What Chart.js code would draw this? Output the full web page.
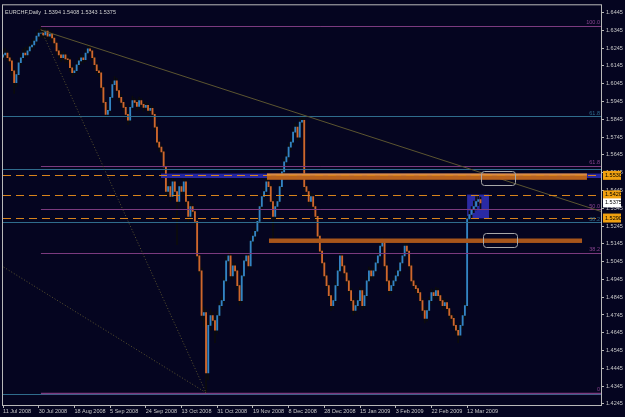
<!DOCTYPE html>
<html>
<head>
<meta charset="utf-8">
<script src="https://cdn.jsdelivr.net/npm/chart.js@4.4.1/dist/chart.umd.min.js"></script>
<style>
  html, body { margin: 0; padding: 0; background: #050520; }
  #wrap { width: 625px; height: 417px; }
</style>
</head>
<body>
<div id="wrap"><canvas id="chart" width="625" height="417"></canvas></div>
<script>
'use strict';

// EURCHF daily, one entry per bar (bar 0 = 11 Jul 2008)
const opens = [
  1.6195, 1.6207, 1.6218, 1.6191, 1.6174, 1.6118, 1.6051, 1.6096, 1.6163, 1.6191,
  1.6218, 1.6207, 1.6230, 1.6252, 1.6263, 1.6285, 1.6313, 1.6330, 1.6330, 1.6319,
  1.6341, 1.6313, 1.6324, 1.6302, 1.6274, 1.6230, 1.6207, 1.6191, 1.6207, 1.6185,
  1.6180, 1.6135, 1.6107, 1.6118, 1.6152, 1.6174, 1.6191, 1.6180, 1.6218, 1.6241,
  1.6230, 1.6191, 1.6152, 1.6118, 1.6107, 1.6024, 1.5940, 1.5873, 1.5895, 1.5968,
  1.6040, 1.6062, 1.6007, 1.5968, 1.5940, 1.5912, 1.5873, 1.5840, 1.5912, 1.5951,
  1.5940, 1.5918, 1.5951, 1.5929, 1.5912, 1.5923, 1.5895, 1.5907, 1.5873, 1.5801,
  1.5717, 1.5689, 1.5662, 1.5578, 1.5439, 1.5467, 1.5411, 1.5494, 1.5439, 1.5383,
  1.5467, 1.5439, 1.5494, 1.5383, 1.5299, 1.5355, 1.5327, 1.5271, 1.5077, 1.4993,
  1.4742, 1.4759, 1.4420, 1.4687, 1.4742, 1.4714, 1.4659, 1.4742, 1.4798, 1.4826,
  1.4937, 1.5049, 1.5077, 1.4965, 1.5021, 1.4993, 1.4910, 1.4826, 1.4965, 1.5049,
  1.5077, 1.5021, 1.5160, 1.5188, 1.5216, 1.5271, 1.5355, 1.5411, 1.5439, 1.5494,
  1.5467, 1.5383, 1.5299, 1.5355, 1.5383, 1.5467, 1.5550, 1.5606, 1.5634, 1.5689,
  1.5717, 1.5773, 1.5801, 1.5745, 1.5829, 1.5840, 1.5467, 1.5439, 1.5383, 1.5411,
  1.5355, 1.5299, 1.5188, 1.5104, 1.5038, 1.4965, 1.4910, 1.4854, 1.4798, 1.4826,
  1.4910, 1.4993, 1.5077, 1.5021, 1.4982, 1.4937, 1.4882, 1.4826, 1.4770, 1.4798,
  1.4826, 1.4882, 1.4798, 1.4854, 1.4937, 1.4993, 1.4965, 1.4993, 1.5038, 1.5077,
  1.5132, 1.5160, 1.5021, 1.4937, 1.4882, 1.4910, 1.4937, 1.4965, 1.4993, 1.5038,
  1.5077, 1.5132, 1.5104, 1.5021, 1.4937, 1.4910, 1.4893, 1.4871, 1.4826, 1.4770,
  1.4726, 1.4770, 1.4826, 1.4871, 1.4854, 1.4882, 1.4854, 1.4826, 1.4798, 1.4815,
  1.4781, 1.4742, 1.4726, 1.4687, 1.4659, 1.4631, 1.4687, 1.4742, 1.4798, 1.5285,
  1.5310, 1.5338, 1.5355, 1.5383, 1.5394
];
const highs = [
  1.6240, 1.6245, 1.6232, 1.6210, 1.6185, 1.6130, 1.6120, 1.6180, 1.6215, 1.6240,
  1.6250, 1.6255, 1.6270, 1.6290, 1.6300, 1.6335, 1.6350, 1.6369, 1.6355, 1.6360,
  1.6352, 1.6345, 1.6338, 1.6315, 1.6285, 1.6245, 1.6225, 1.6230, 1.6220, 1.6205,
  1.6190, 1.6150, 1.6135, 1.6170, 1.6190, 1.6210, 1.6205, 1.6235, 1.6265, 1.6255,
  1.6240, 1.6200, 1.6165, 1.6135, 1.6115, 1.6035, 1.5955, 1.5915, 1.5985, 1.6060,
  1.6085, 1.6075, 1.6020, 1.5985, 1.5955, 1.5925, 1.5890, 1.5930, 1.5975, 1.5965,
  1.5955, 1.5970, 1.5962, 1.5945, 1.5940, 1.5935, 1.5925, 1.5920, 1.5885, 1.5815,
  1.5735, 1.5700, 1.5675, 1.5590, 1.5495, 1.5480, 1.5515, 1.5505, 1.5455, 1.5490,
  1.5480, 1.5515, 1.5505, 1.5395, 1.5375, 1.5370, 1.5340, 1.5285, 1.5095, 1.5010,
  1.4790, 1.4775, 1.4710, 1.4775, 1.4760, 1.4730, 1.4765, 1.4820, 1.4845, 1.4960,
  1.5075, 1.5100, 1.5090, 1.5040, 1.5035, 1.5005, 1.4925, 1.4985, 1.5070, 1.5095,
  1.5090, 1.5180, 1.5210, 1.5235, 1.5290, 1.5375, 1.5430, 1.5460, 1.5520, 1.5530,
  1.5480, 1.5395, 1.5375, 1.5400, 1.5485, 1.5570, 1.5625, 1.5655, 1.5710, 1.5740,
  1.5795, 1.5825, 1.5815, 1.5850, 1.5868, 1.5855, 1.5480, 1.5450, 1.5430, 1.5425,
  1.5370, 1.5315, 1.5200, 1.5120, 1.5050, 1.4980, 1.4925, 1.4870, 1.4845, 1.4930,
  1.5015, 1.5100, 1.5090, 1.5035, 1.4995, 1.4950, 1.4895, 1.4840, 1.4820, 1.4845,
  1.4900, 1.4895, 1.4875, 1.4960, 1.5015, 1.5005, 1.5010, 1.5055, 1.5095, 1.5150,
  1.5180, 1.5170, 1.5035, 1.4950, 1.4930, 1.4955, 1.4985, 1.5010, 1.5055, 1.5095,
  1.5150, 1.5145, 1.5115, 1.5035, 1.4950, 1.4925, 1.4905, 1.4885, 1.4840, 1.4785,
  1.4790, 1.4845, 1.4890, 1.4885, 1.4900, 1.4895, 1.4865, 1.4840, 1.4835, 1.4825,
  1.4795, 1.4755, 1.4740, 1.4700, 1.4675, 1.4705, 1.4760, 1.4815, 1.5300, 1.5330,
  1.5355, 1.5385, 1.5410, 1.5420, 1.5408
];
const lows = [
  1.6180, 1.6190, 1.6170, 1.6150, 1.6090, 1.5990, 1.6030, 1.6080, 1.6150, 1.6175,
  1.6190, 1.6195, 1.6215, 1.6235, 1.6245, 1.6270, 1.6295, 1.6305, 1.6300, 1.6305,
  1.6290, 1.6295, 1.6280, 1.6255, 1.6205, 1.6185, 1.6170, 1.6180, 1.6165, 1.6160,
  1.6115, 1.6085, 1.6095, 1.6105, 1.6140, 1.6160, 1.6160, 1.6170, 1.6205, 1.6215,
  1.6175, 1.6130, 1.6100, 1.6085, 1.6000, 1.5915, 1.5850, 1.5860, 1.5880, 1.5955,
  1.6025, 1.5985, 1.5950, 1.5920, 1.5890, 1.5850, 1.5815, 1.5830, 1.5900, 1.5920,
  1.5895, 1.5905, 1.5910, 1.5890, 1.5900, 1.5875, 1.5880, 1.5850, 1.5780, 1.5695,
  1.5665, 1.5640, 1.5555, 1.5410, 1.5420, 1.5385, 1.5400, 1.5415, 1.5140, 1.5370,
  1.5420, 1.5425, 1.5360, 1.5270, 1.5285, 1.5305, 1.5250, 1.5055, 1.4970, 1.4715,
  1.4680, 1.4308, 1.4380, 1.4660, 1.4690, 1.4590, 1.4640, 1.4725, 1.4775, 1.4810,
  1.4920, 1.5030, 1.4945, 1.4950, 1.4970, 1.4885, 1.4800, 1.4815, 1.4950, 1.5035,
  1.5000, 1.5010, 1.5145, 1.5170, 1.5200, 1.5255, 1.5340, 1.5395, 1.5425, 1.5450,
  1.5365, 1.5177, 1.5285, 1.5340, 1.5370, 1.5450, 1.5535, 1.5590, 1.5620, 1.5670,
  1.5700, 1.5755, 1.5725, 1.5730, 1.5805, 1.5445, 1.5410, 1.5360, 1.5370, 1.5330,
  1.5275, 1.5165, 1.5080, 1.5015, 1.4945, 1.4885, 1.4830, 1.4770, 1.4780, 1.4810,
  1.4895, 1.4980, 1.5000, 1.4960, 1.4915, 1.4860, 1.4805, 1.4745, 1.4755, 1.4780,
  1.4810, 1.4775, 1.4785, 1.4840, 1.4920, 1.4945, 1.4950, 1.4980, 1.5020, 1.5060,
  1.5115, 1.5000, 1.4915, 1.4860, 1.4865, 1.4890, 1.4920, 1.4950, 1.4975, 1.5020,
  1.5060, 1.5085, 1.5000, 1.4915, 1.4890, 1.4870, 1.4850, 1.4805, 1.4745, 1.4700,
  1.4710, 1.4755, 1.4810, 1.4835, 1.4840, 1.4835, 1.4805, 1.4775, 1.4785, 1.4760,
  1.4720, 1.4705, 1.4665, 1.4635, 1.4590, 1.4615, 1.4670, 1.4725, 1.4780, 1.5265,
  1.5290, 1.5320, 1.5335, 1.5360, 1.5343
];
const closes = [
  1.6207, 1.6218, 1.6191, 1.6174, 1.6118, 1.6051, 1.6096, 1.6163, 1.6191, 1.6218,
  1.6207, 1.6230, 1.6252, 1.6263, 1.6285, 1.6313, 1.6330, 1.6330, 1.6319, 1.6341,
  1.6313, 1.6324, 1.6302, 1.6274, 1.6230, 1.6207, 1.6191, 1.6207, 1.6185, 1.6180,
  1.6135, 1.6107, 1.6118, 1.6152, 1.6174, 1.6191, 1.6180, 1.6218, 1.6241, 1.6230,
  1.6191, 1.6152, 1.6118, 1.6107, 1.6024, 1.5940, 1.5873, 1.5895, 1.5968, 1.6040,
  1.6062, 1.6007, 1.5968, 1.5940, 1.5912, 1.5873, 1.5840, 1.5912, 1.5951, 1.5940,
  1.5918, 1.5951, 1.5929, 1.5912, 1.5923, 1.5895, 1.5907, 1.5873, 1.5801, 1.5717,
  1.5689, 1.5662, 1.5578, 1.5439, 1.5467, 1.5411, 1.5494, 1.5439, 1.5383, 1.5467,
  1.5439, 1.5494, 1.5383, 1.5299, 1.5355, 1.5327, 1.5271, 1.5077, 1.4993, 1.4742,
  1.4759, 1.4420, 1.4687, 1.4742, 1.4714, 1.4659, 1.4742, 1.4798, 1.4826, 1.4937,
  1.5049, 1.5077, 1.4965, 1.5021, 1.4993, 1.4910, 1.4826, 1.4965, 1.5049, 1.5077,
  1.5021, 1.5160, 1.5188, 1.5216, 1.5271, 1.5355, 1.5411, 1.5439, 1.5494, 1.5467,
  1.5383, 1.5299, 1.5355, 1.5383, 1.5467, 1.5550, 1.5606, 1.5634, 1.5689, 1.5717,
  1.5773, 1.5801, 1.5745, 1.5829, 1.5840, 1.5467, 1.5439, 1.5383, 1.5411, 1.5355,
  1.5299, 1.5188, 1.5104, 1.5038, 1.4965, 1.4910, 1.4854, 1.4798, 1.4826, 1.4910,
  1.4993, 1.5077, 1.5021, 1.4982, 1.4937, 1.4882, 1.4826, 1.4770, 1.4798, 1.4826,
  1.4882, 1.4798, 1.4854, 1.4937, 1.4993, 1.4965, 1.4993, 1.5038, 1.5077, 1.5132,
  1.5160, 1.5021, 1.4937, 1.4882, 1.4910, 1.4937, 1.4965, 1.4993, 1.5038, 1.5077,
  1.5132, 1.5104, 1.5021, 1.4937, 1.4910, 1.4893, 1.4871, 1.4826, 1.4770, 1.4726,
  1.4770, 1.4826, 1.4871, 1.4854, 1.4882, 1.4854, 1.4826, 1.4798, 1.4815, 1.4781,
  1.4742, 1.4726, 1.4687, 1.4659, 1.4631, 1.4687, 1.4742, 1.4798, 1.5285, 1.5310,
  1.5338, 1.5355, 1.5383, 1.5394, 1.5375
];

// time axis: every 16th bar gets a date
const dateTicks = [0, 16, 32, 48, 64, 80, 96, 112, 128, 144, 160, 176, 192, 208];
const dateLabels = ['11 Jul 2008', '30 Jul 2008', '18 Aug 2008', '5 Sep 2008', '24 Sep 2008',
  '13 Oct 2008', '31 Oct 2008', '19 Nov 2008', '8 Dec 2008', '28 Dec 2008',
  '15 Jan 2009', '3 Feb 2009', '22 Feb 2009', '12 Mar 2009'];
const slotCount = 269;

const priceTicks = [1.4245, 1.4345, 1.4445, 1.4545, 1.4645, 1.4745, 1.4845, 1.4945, 1.5045,
  1.5145, 1.5245, 1.5345, 1.5445, 1.5545, 1.5645, 1.5745, 1.5845, 1.5945, 1.6045,
  1.6145, 1.6245, 1.6345, 1.6445];

// chart objects (bar index / price)
const fibPurpleLevels = ['100.0', '61.8', '50.0', '38.2', '0'];
const fibPurplePrices = [1.6369, 1.5582, 1.5339, 1.5095, 1.4308];
const fibTealLevels = ['61.8', '', '38.2', ''];
const fibTealPrices = [1.5862, 1.5564, 1.5266, 1.4301];
const dashedPrices = [1.5530, 1.5420, 1.5290];
const trendLine = [[17, 1.6347], [268, 1.5327]];
const dottedLines = [[[17, 1.6350], [91, 1.4308]], [[-2, 1.5032], [91, 1.4308]]];
const blueBand = [70.8, 268, 1.5540, 1.5515];
const upperBand = [118.3, 261.7, 1.5540, 1.5505];
const lowerBand = [119.2, 259.5, 1.5175, 1.5150];
const blueBox = [208, 217.8, 1.5422, 1.5288];
const roundBoxes = [[214.2, 229.5, 1.5556, 1.5478], [215.1, 230.4, 1.5205, 1.5127]];
const axisTags = [[1.5530, '1.5530', '#f0a010'], [1.5420, '1.5420', '#f0a010'],
  [1.5375, '1.5375', '#ffffff'], [1.5290, '1.5290', '#f0a010']];
const title = 'EURCHF,Daily  1.5394 1.5408 1.5343 1.5375';

const BULL = '#3384c4';
const BEAR = '#cf672d';
const FONT = '5.5px "Liberation Sans", Arial, sans-serif';
const AXIS = '#b8b8b8';

function drawSeg(ctx, x, y, p0, p1) {
  ctx.beginPath();
  ctx.moveTo(x.getPixelForValue(p0[0]), y.getPixelForValue(p0[1]));
  ctx.lineTo(x.getPixelForValue(p1[0]), y.getPixelForValue(p1[1]));
  ctx.stroke();
}

function fillBand(ctx, x, y, b, color) {
  const x0 = x.getPixelForValue(b[0]), x1 = x.getPixelForValue(b[1]);
  const y0 = y.getPixelForValue(b[2]), y1 = y.getPixelForValue(b[3]);
  ctx.fillStyle = color;
  ctx.fillRect(x0, y0, x1 - x0, y1 - y0);
  return { x0, x1, y0, y1 };
}

const mtObjects = {
  id: 'mtObjects',
  beforeDatasetsDraw(chart) {
    const { ctx, scales: { x, y } } = chart;
    ctx.save();
    fillBand(ctx, x, y, blueBox, '#2a2aa4');
    ctx.restore();
  },
  afterDatasetsDraw(chart) {
    const { ctx, chartArea: a, scales: { x, y } } = chart;
    ctx.save();
    ctx.beginPath();
    ctx.rect(a.left, a.top, a.right - a.left, a.bottom - a.top);
    ctx.clip();

    // fib lines
    ctx.lineWidth = 1;
    ctx.strokeStyle = '#2f6c8c';
    fibTealPrices.forEach(p => {
      const yy = Math.round(y.getPixelForValue(p)) + 0.5;
      ctx.beginPath(); ctx.moveTo(a.left, yy); ctx.lineTo(a.right, yy); ctx.stroke();
    });
    ctx.strokeStyle = '#7b3a7e';
    fibPurplePrices.forEach((p, k) => {
      const yy = Math.round(y.getPixelForValue(p)) + 0.5;
      ctx.lineWidth = k === fibPurplePrices.length - 1 ? 1.6 : 1;
      ctx.beginPath(); ctx.moveTo(x.getPixelForValue(17), yy); ctx.lineTo(a.right, yy); ctx.stroke();
    });

    // trend lines
    ctx.lineWidth = 1;
    ctx.strokeStyle = '#5c5530';
    drawSeg(ctx, x, y, trendLine[0], trendLine[1]);
    ctx.setLineDash([1, 2]);
    dottedLines.forEach(l => drawSeg(ctx, x, y, l[0], l[1]));
    ctx.setLineDash([]);

    // bands
    fillBand(ctx, x, y, blueBand, '#2626a0');
    const ub = fillBand(ctx, x, y, upperBand, '#b8621d');
    ctx.fillStyle = '#d88c48';
    ctx.fillRect(ub.x0, ub.y0, ub.x1 - ub.x0, 2);
    fillBand(ctx, x, y, lowerBand, '#a8561b');

    // dashed levels, drawn as short orange segments
    ctx.fillStyle = '#d8841c';
    dashedPrices.forEach(p => {
      const yy = Math.round(y.getPixelForValue(p));
      for (let xx = a.left; xx < a.right; xx += 13) {
        ctx.fillRect(xx, yy, Math.min(8, a.right - xx), 1);
      }
    });

    // rounded boxes
    ctx.strokeStyle = '#a8a8a8';
    roundBoxes.forEach(b => {
      const x0 = Math.round(x.getPixelForValue(b[0])) + 0.5, x1 = Math.round(x.getPixelForValue(b[1])) + 0.5;
      const y0 = Math.round(y.getPixelForValue(b[2])) + 0.5, y1 = Math.round(y.getPixelForValue(b[3])) + 0.5;
      ctx.beginPath();
      ctx.roundRect(x0, y0, x1 - x0, y1 - y0, 3);
      ctx.stroke();
    });

    // fib level texts
    ctx.font = FONT;
    ctx.textAlign = 'right';
    ctx.textBaseline = 'bottom';
    ctx.fillStyle = '#2f6c8c';
    fibTealPrices.forEach((p, k) => {
      if (fibTealLevels[k]) ctx.fillText(fibTealLevels[k], a.right - 1, y.getPixelForValue(p) - 0.5);
    });
    ctx.fillStyle = '#8a4490';
    fibPurplePrices.forEach((p, k) => {
      ctx.fillText(fibPurpleLevels[k], a.right - 1, y.getPixelForValue(p) - 0.5);
    });
    ctx.restore();
  },
  afterDraw(chart) {
    const { ctx, chartArea: a, scales: { y } } = chart;
    ctx.save();
    ctx.strokeStyle = AXIS;
    ctx.lineWidth = 1;
    ctx.strokeRect(a.left - 0.5, a.top - 0.5, a.right - a.left + 1, a.bottom - a.top + 1);

    ctx.font = FONT;
    ctx.textBaseline = 'middle';
    ctx.textAlign = 'left';
    axisTags.forEach(t => {
      const yy = y.getPixelForValue(t[0]);
      ctx.fillStyle = t[2];
      ctx.fillRect(a.right + 2, yy - 4.5, 18, 9);
      ctx.fillStyle = '#000000';
      ctx.fillText(t[1], a.right + 4, yy);
    });

    ctx.fillStyle = '#d0d0d0';
    ctx.textBaseline = 'top';
    ctx.fillText(title, a.left + 2, a.top + 4);
    ctx.restore();
  }
};

const slots = Array.from({ length: slotCount }, (_, i) => i);

new Chart(document.getElementById('chart'), {
  type: 'bar',
  data: {
    labels: slots,
    datasets: [
      {
        data: opens.map((o, i) => [Math.min(o, closes[i]), Math.max(o, closes[i])]),
        backgroundColor: opens.map((o, i) => (closes[i] >= o ? BULL : BEAR)),
        barThickness: 1.2,
        grouped: false,
        borderWidth: 0
      },
      {
        data: lows.map((l, i) => [l, highs[i]]),
        backgroundColor: '#0c0c0c',
        barThickness: 1,
        grouped: false,
        borderWidth: 0
      }
    ]
  },
  options: {
    responsive: false,
    animation: false,
    events: [],
    layout: { padding: { left: 3, top: 2, right: 0, bottom: 0 } },
    plugins: { legend: { display: false }, tooltip: { enabled: false } },
    scales: {
      x: {
        type: 'category',
        offset: false,
        grid: { offset: false, drawOnChartArea: false, color: AXIS, tickLength: 3 },
        border: { display: true, color: AXIS },
        ticks: {
          autoSkip: false, maxRotation: 0, minRotation: 0, align: 'start', padding: 0,
          color: '#c8c8c8', font: { family: 'Liberation Sans', size: 5.5 },
          callback: v => { const k = dateTicks.indexOf(v); return k >= 0 ? dateLabels[k] : ''; }
        },
        afterBuildTicks: s => { s.ticks = dateTicks.map(v => ({ value: v })); },
        afterFit: s => { s.height = 12; }
      },
      y: {
        type: 'linear',
        position: 'right',
        min: 1.4239,
        max: 1.6486,
        beginAtZero: false,
        grid: { drawOnChartArea: false, color: AXIS, tickLength: 3 },
        border: { display: true, color: AXIS },
        ticks: {
          padding: 2, color: '#c8c8c8', font: { family: 'Liberation Sans', size: 5.5 },
          callback: v => v.toFixed(4)
        },
        afterBuildTicks: s => { s.ticks = priceTicks.map(v => ({ value: v })); },
        afterFit: s => { s.width = 24; }
      }
    }
  },
  plugins: [mtObjects]
});
</script>
</body>
</html>
